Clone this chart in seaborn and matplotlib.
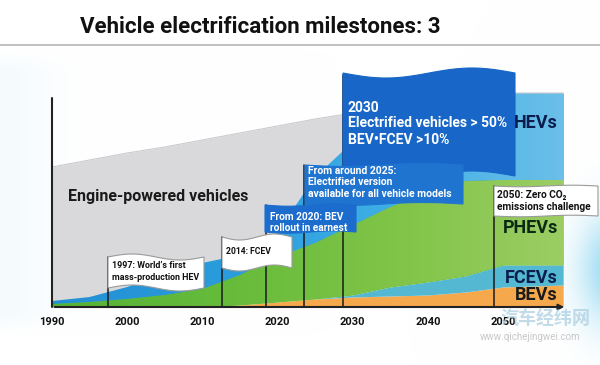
import numpy as np
import matplotlib
matplotlib.use("Agg")
import matplotlib.pyplot as plt
import matplotlib.transforms as mtransforms
from matplotlib.colors import LinearSegmentedColormap
from matplotlib.patches import Polygon
import seaborn as sns

# ---- data (relative volume index) ----
years = [1990, 1995, 2000, 2005, 2010, 2015, 2020, 2025, 2030, 2035, 2040, 2045, 2050, 2058]
bevs = [0, 0, 0, 0, 0, 2, 5, 8, 10, 11, 12, 15, 20, 22]
fcevs = [0, 0, 0, 0, 0, 0, 0, 0, 2, 9, 13, 16, 22, 20]
phevs = [3, 5, 8, 12, 18, 30, 45, 56, 70, 80, 90, 95, 85, 85]
hevs = [3, 5, 12, 21, 26, 20, 25, 66, 83, 85, 83, 81, 87, 87]
engine = [134, 137, 134, 127, 123, 122, 106, 58, 29, 15, 7, 3, 0, 0]

tick_years = [1990, 2000, 2010, 2020, 2030, 2040, 2050]
pole_years = [1997.4, 2012.6, 2018.5, 2023.5, 2028.7, 2048.8]
pole_tops = [50, 70, 102, 142, 232, 121]

layer_colors = ["#f5a84c", "#55b8d2", "#6cbd3e", "#2b9bd9", "#d9d9dc"]
hev_grad = ["#2390d4", "#2a9bdb", "#3fb0e6", "#6cbfe8"]
phev_grad = ["#56b236", "#66bb3a", "#80c448", "#9ccd64"]

sns.set_theme(style="white")
plt.rcParams['font.family'] = ['Roboto', 'DejaVu Sans', 'Noto Sans CJK SC']

fig = plt.figure(figsize=(6, 3.65), dpi=100)
fig.patch.set_facecolor("white")
pix = mtransforms.Affine2D().scale(1 / 600, -1 / 365).translate(0, 1) + fig.transFigure

# soft photo glow at the edges
bg = fig.add_axes([0, 0, 1, 1], zorder=-10)
bg.axis("off")
gx, gy = np.meshgrid(np.linspace(0, 600, 300), np.linspace(0, 365, 183))
band = np.clip((gy - 50) / 20, 0, 1) * np.clip((335 - gy) / 20, 0, 1)
a = 0.08 * np.exp(-((gx + 10) / 60) ** 2) * band
a += 0.7 * np.exp(-((gx - 615) / 35) ** 2 - ((gy - 270) / 55) ** 2)
a = np.clip(a, 0, 1)[..., None]
cyan = np.array([0.45, 0.80, 0.93])
img = (1 - a) * np.ones(3) + a * cyan
bg.imshow(img, extent=[0, 600, 365, 0], aspect="auto")
bg.set_xlim(0, 600)
bg.set_ylim(365, 0)

ax = fig.add_axes([52 / 600, 58 / 365, 515 / 600, 247 / 365])
ax.patch.set_alpha(0)
xmax = 1990 + 515 / 7.517
ax.set_xlim(1990, xmax)
ax.set_ylim(0, 247)
for s in ax.spines.values():
    s.set_visible(False)

polys = ax.stackplot(years, bevs, fcevs, phevs, hevs, engine, colors=layer_colors, lw=0, zorder=1)
total = np.sum([bevs, fcevs, phevs, hevs, engine], axis=0)
sns.lineplot(x=years, y=total, color="#cbcbcf", lw=0.8, ax=ax, zorder=1.1)

# left-to-right shading of the HEV and PHEV layers
for poly, cols in [(polys[3], hev_grad), (polys[2], phev_grad)]:
    cmap = LinearSegmentedColormap.from_list("g", cols)
    im = ax.imshow(np.linspace(0, 1, 256)[None, :], cmap=cmap, aspect="auto",
                   extent=[1990, xmax, 0, 247], zorder=1.05, interpolation="bilinear")
    im.set_clip_path(poly.get_paths()[0], transform=ax.transData)
ax.set_xlim(1990, xmax)
ax.set_ylim(0, 247)

# axes lines
ax.plot([1990, 1990], [0, 209], color="#222222", lw=1.5, zorder=5, clip_on=False)
ax.annotate("", xy=(xmax, 0), xytext=(1990, 0),
            arrowprops=dict(arrowstyle="-|>", color="#222222", lw=1.5, mutation_scale=8),
            zorder=5, annotation_clip=False)
ax.set_xticks(tick_years)
ax.set_xticklabels([str(y) for y in tick_years], fontsize=8, fontweight="bold", color="#111111")
ax.tick_params(axis="x", length=0, pad=7)
ax.set_yticks([])

# flag poles
for px_, top in zip(pole_years, pole_tops):
    ax.plot([px_, px_], [0, top], color="#1a1a1a", lw=1.1, zorder=3)


def banner(x0, x1, ytop, ybot, amp, color, edge=None, phase=0.0, z=4):
    xs = np.linspace(x0, x1, 60)
    t = np.linspace(0, 2 * np.pi, 60) + phase
    top = ytop + amp * np.sin(t)
    bot = ybot + amp * np.sin(t)
    pts = np.column_stack([np.r_[xs, xs[::-1]], np.r_[top, bot[::-1]]])
    p = Polygon(pts, closed=True, transform=pix, facecolor=color,
                edgecolor=edge if edge else color, lw=0.8, zorder=z, clip_on=False)
    ax.add_patch(p)


def label(x, y, s, size, color, ha="left", z=8, **kw):
    ax.text(x, y, s, transform=pix, fontsize=size, fontweight="bold", color=color,
            ha=ha, va="center", zorder=z, clip_on=False, **kw)


# 2030 banner
banner(343, 515, 73, 176, 5, "#1766c8", z=4)
label(348, 108, "2030", 10, "white")
label(348, 123, "Electrified vehicles > 50%", 10, "white")
label(348, 140, "BEV\u2022FCEV >10%", 10, "white")
label(558, 123, "HEVs", 13, "#0b1d4d", ha="right")

# 2025 box
banner(305, 463, 165, 204, 1.5, "#1f74d0", z=5)
label(308, 171, "From around 2025:", 7.5, "white")
label(308, 182, "Electrified version", 7.5, "white")
label(308, 194, "available for all vehicle models", 7.5, "white")

# 2020 box
banner(265, 356, 205, 232, 1.2, "#1b6ccd", z=6)
label(270, 217, "From 2020: BEV", 7.3, "white")
label(270, 228, "rollout in earnest", 7.3, "white")

# 2014 flag
banner(222, 292, 237, 268, 3, "white", edge="#9a9a9a", z=6)
label(226, 252, "2014: FCEV", 6.2, "#111111")

# 1997 flag
banner(108, 204, 257, 288, 3, "white", edge="#9a9a9a", phase=np.pi, z=6)
label(112, 266, "1997: World\u2019s first", 6.4, "#111111")
label(112, 278, "mass-production HEV", 6.4, "#111111")

# 2050 box
banner(494, 598, 186, 216, 0.8, "white", edge="#9a9a9a", z=6)
label(497, 195, "2050: Zero CO\u2082", 7.3, "#111111")
label(497, 207, "emissions challenge", 7.3, "#111111")

# area names
label(68, 197, "Engine-powered vehicles", 11.5, "#1a1a1a")
label(558, 228, "PHEVs", 13, "#0b2a16", ha="right")
label(558, 278, "FCEVs", 13, "#0b1d4d", ha="right")
label(558, 295, "BEVs", 13, "#1a1a1a", ha="right")

# title and rule
fig.text(260 / 600, 1 - 27 / 365, "Vehicle electrification milestones: 3",
         fontsize=16, fontweight="bold", color="#111111", ha="center", va="center")
fig.add_artist(plt.Line2D([0, 1], [1 - 45 / 365, 1 - 45 / 365], color="#b5b5b5", lw=1.2))

# watermark
fig.text(545 / 600, 1 - 318 / 365, "汽车经纬网", fontsize=13, fontweight="bold",
         color="#a8cde0", alpha=0.7, ha="center", va="center",
         family=["Noto Sans CJK SC", "DejaVu Sans"])
fig.text(530 / 600, 1 - 337 / 365, "www.qichejingwei.com", fontsize=7,
         color="#c8c8c8", ha="center", va="center")

fig.savefig("out.png", dpi=100)
